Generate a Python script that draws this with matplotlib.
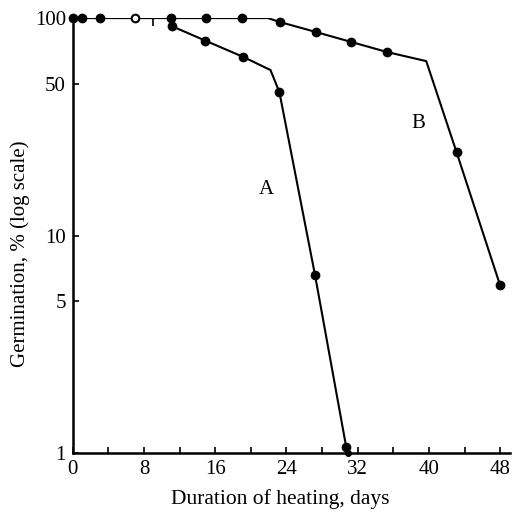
import matplotlib.pyplot as plt
from matplotlib.ticker import FixedLocator, NullFormatter

plt.rcParams["font.family"] = ["Liberation Serif", "DejaVu Serif"]

# Curva superior comun + curva B (vertices de la linea)
dias_b = [0, 1, 3, 7, 11, 15, 19, 21.9, 23.3, 27.3, 31.3, 35.3, 39.7, 43.1, 48]
germ_b = [100, 100, 100, 100, 100, 100, 100, 100, 95.8, 86.3, 77.6, 69.8, 63.4, 24.2, 5.9]
# puntos marcados de la curva B (sin el quiebre)
marca_b_dias = [0, 1, 3, 11, 15, 19, 23.3, 27.3, 31.3, 35.3, 43.1, 48]
marca_b_germ = [100, 100, 100, 100, 100, 100, 95.8, 86.3, 77.6, 69.8, 24.2, 5.9]
abierto_dias = [7]
abierto_germ = [100]

# Curva A
dias_a = [11, 11.1, 14.9, 19.1, 22.2, 23.2, 27.2, 30.7]
germ_a = [100, 91.9, 78.7, 66.4, 57.7, 45.7, 6.6, 1.07]
marca_a_dias = [11.1, 14.9, 19.1, 23.2, 27.2, 30.7]
marca_a_germ = [91.9, 78.7, 66.4, 45.7, 6.6, 1.07]

xticks = [0, 8, 16, 24, 32, 40, 48]
yticks = [1, 5, 10, 50, 100]

fig = plt.figure(figsize=(5.13, 5.32), dpi=100)
ax = fig.add_axes([0.142, 0.1485, 0.852, 0.8175])

ax.plot(dias_b, germ_b, color="black", lw=1.5)
ax.plot(dias_a, germ_a, color="black", lw=1.5)
ax.plot(marca_b_dias, marca_b_germ, "o", color="black", ms=6, clip_on=False)
ax.plot(marca_a_dias, marca_a_germ, "o", color="black", ms=6, clip_on=False)
ax.plot(abierto_dias, abierto_germ, "o", mfc="white", mec="black", mew=1.5, ms=5.5, clip_on=False)
ax.plot([30.9], [1.0], "o", color="black", ms=4, clip_on=False)
ax.plot([9], [100], marker=3, color="black", ms=6, mew=1.2)

ax.text(21.7, 16.2, "A", fontsize=15, ha="center", va="center")
ax.text(38.8, 32.9, "B", fontsize=15, ha="center", va="center")

ax.set_yscale("log")
ax.set_xlim(0, 49.1)
ax.set_ylim(1, 100)
ax.yaxis.set_major_locator(FixedLocator(yticks))
ax.yaxis.set_minor_locator(FixedLocator([]))
ax.set_yticklabels([str(v) for v in yticks])
ax.yaxis.set_minor_formatter(NullFormatter())
ax.set_xticks(xticks)
ax.set_xticks(range(0, 49, 4), minor=True)
ax.set_xticklabels([str(v) for v in xticks])

ax.tick_params(direction="in", length=4, width=1.2, labelsize=15, pad=5)
ax.tick_params(which="minor", direction="in", length=4, width=1.2)

for lado in ["top", "right"]:
    ax.spines[lado].set_visible(False)
for lado in ["left", "bottom"]:
    ax.spines[lado].set_linewidth(1.8)

ax.set_xlabel("Duration of heating, days", fontsize=15.5)
ax.set_ylabel("Germination, % (log scale)", fontsize=15)
ax.xaxis.set_label_coords(0.474, -0.083)
ax.yaxis.set_label_coords(-0.098, 0.457)

fig.savefig("out.png", dpi=100)
